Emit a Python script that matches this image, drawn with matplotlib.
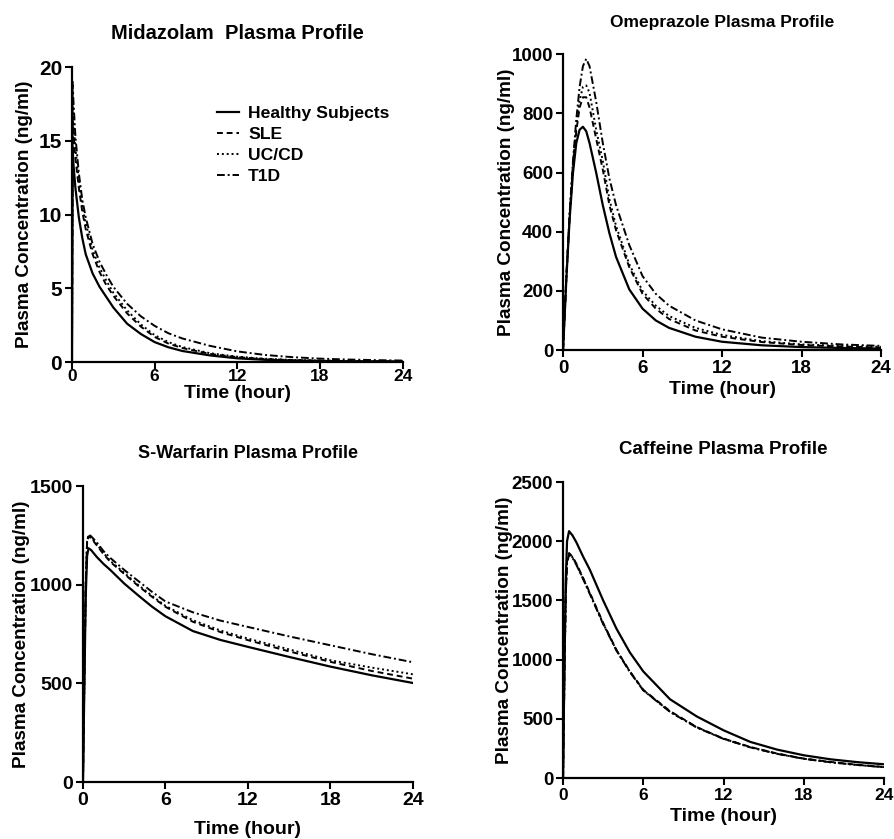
import matplotlib
matplotlib.use("Agg")
import matplotlib.pyplot as plt

plt.rcParams['font.family'] = ['Liberation Sans', 'DejaVu Sans']
plt.rcParams['font.weight'] = 'bold'
plt.rcParams['axes.labelweight'] = 'bold'
plt.rcParams['axes.titleweight'] = 'bold'

groups = ["Healthy Subjects", "SLE", "UC/CD", "T1D"]

# ---- Midazolam ----
mid_t = [0, 0.05, 0.1, 0.25, 0.5, 0.75, 1, 1.5, 2, 2.5, 3, 4, 5, 6, 7, 8, 10, 12, 14, 16, 18, 20, 22, 24]
mid_healthy = [0, 14.5, 13.5, 11.8, 9.8, 8.4, 7.3, 6.0, 5.1, 4.4, 3.7, 2.6, 1.9, 1.35, 1.0, 0.75, 0.45, 0.25, 0.15, 0.1, 0.07, 0.05, 0.04, 0.03]
mid_sle = [0, 16.5, 15.6, 13.8, 11.8, 10.2, 9.0, 7.3, 6.1, 5.2, 4.5, 3.3, 2.4, 1.7, 1.25, 0.95, 0.55, 0.33, 0.2, 0.13, 0.09, 0.07, 0.05, 0.04]
mid_uccd = [0, 17.5, 16.5, 14.5, 12.3, 10.6, 9.4, 7.6, 6.4, 5.5, 4.7, 3.5, 2.55, 1.82, 1.35, 1.02, 0.6, 0.36, 0.22, 0.14, 0.1, 0.07, 0.05, 0.04]
mid_t1d = [0, 19.0, 17.8, 15.3, 12.8, 11.0, 9.8, 8.0, 6.8, 5.9, 5.1, 3.95, 3.1, 2.45, 1.95, 1.6, 1.1, 0.72, 0.48, 0.33, 0.23, 0.17, 0.13, 0.1]

# ---- Omeprazole ----
ome_t = [0, 0.25, 0.5, 0.75, 1, 1.25, 1.5, 1.75, 2, 2.5, 3, 3.5, 4, 5, 6, 7, 8, 10, 12, 15, 18, 21, 24]
ome_healthy = [0, 240, 445, 600, 700, 745, 755, 740, 700, 600, 490, 395, 315, 205, 140, 100, 75, 45, 28, 16, 10, 7, 5]
ome_sle = [0, 245, 455, 620, 740, 820, 855, 855, 820, 715, 610, 490, 405, 280, 190, 140, 105, 66, 45, 27, 17, 12, 8]
ome_uccd = [0, 245, 458, 630, 755, 845, 890, 895, 870, 745, 640, 510, 420, 290, 200, 150, 115, 75, 51, 30, 19, 14, 11]
ome_t1d = [0, 250, 465, 640, 780, 890, 960, 985, 960, 840, 700, 580, 490, 355, 250, 190, 150, 100, 70, 42, 28, 19, 14]

# ---- S-Warfarin ----
war_t = [0, 0.1, 0.2, 0.3, 0.4, 0.6, 1, 1.5, 2, 3, 4, 5, 6, 8, 10, 12, 15, 18, 21, 24]
war_healthy = [0, 480, 940, 1145, 1185, 1175, 1141, 1105, 1074, 1006, 947, 890, 840, 765, 720, 685, 634, 585, 541, 502]
war_sle = [0, 520, 1000, 1210, 1245, 1235, 1200, 1155, 1115, 1055, 995, 940, 888, 812, 760, 719, 662, 609, 563, 524]
war_uccd = [0, 520, 1000, 1215, 1250, 1240, 1205, 1160, 1120, 1060, 1000, 945, 893, 820, 768, 727, 672, 617, 580, 546]
war_t1d = [0, 525, 1005, 1220, 1255, 1245, 1215, 1170, 1135, 1075, 1020, 965, 915, 860, 818, 786, 738, 693, 648, 607]

# ---- Caffeine ----
caf_t = [0, 0.1, 0.2, 0.3, 0.45, 0.7, 1, 1.5, 2, 3, 4, 5, 6, 8, 10, 12, 14, 16, 18, 20, 22, 24]
caf_healthy = [0, 900, 1650, 2000, 2085, 2050, 1990, 1870, 1760, 1500, 1260, 1060, 900, 665, 520, 403, 305, 240, 192, 158, 134, 116]
caf_sle = [0, 850, 1550, 1830, 1900, 1870, 1810, 1690, 1565, 1310, 1080, 900, 745, 565, 430, 333, 262, 207, 164, 136, 112, 93]
caf_uccd = [0, 850, 1545, 1825, 1895, 1865, 1805, 1685, 1560, 1305, 1078, 897, 742, 560, 428, 332, 260, 205, 163, 133, 110, 92]
caf_t1d = [0, 845, 1540, 1815, 1885, 1860, 1800, 1680, 1555, 1300, 1075, 895, 740, 558, 426, 330, 259, 204, 162, 133, 110, 91]

x_ticks = [0, 6, 12, 18, 24]

panels = [
    dict(title="Midazolam  Plasma Profile", t=mid_t, ys=[mid_healthy, mid_sle, mid_uccd, mid_t1d],
         ymax=20, yticks=[0, 5, 10, 15, 20], rect=[0.0805, 0.5685, 0.370, 0.3516], tsize=14.5,
         ysize=15, xsize=12.5, xpad=0, lpad=0.5, ylpad=4, legend=True),
    dict(title="Omeprazole Plasma Profile", t=ome_t, ys=[ome_healthy, ome_sle, ome_uccd, ome_t1d],
         ymax=1000, yticks=[0, 200, 400, 600, 800, 1000], rect=[0.6298, 0.5828, 0.3557, 0.3524], tsize=12.5,
         ysize=13.5, xsize=13.5, xpad=2, lpad=3, ylpad=-2, legend=False),
    dict(title="S-Warfarin Plasma Profile", t=war_t, ys=[war_healthy, war_sle, war_uccd, war_t1d],
         ymax=1500, yticks=[0, 500, 1000, 1500], rect=[0.0928, 0.0679, 0.369, 0.3528], tsize=13,
         ysize=14, xsize=14, xpad=2, lpad=9, ylpad=0, legend=False),
    dict(title="Caffeine Plasma Profile", t=caf_t, ys=[caf_healthy, caf_sle, caf_uccd, caf_t1d],
         ymax=2500, yticks=[0, 500, 1000, 1500, 2000, 2500], rect=[0.6298, 0.0727, 0.359, 0.3528], tsize=13.5,
         ysize=13.5, xsize=12.5, xpad=2, lpad=4, ylpad=-1, legend=False),
]

styles = [
    dict(linestyle='-', linewidth=1.6),
    dict(linestyle=(0, (3, 2)), linewidth=1.4),
    dict(linestyle=(0, (1, 1.5)), linewidth=1.4),
    dict(linestyle=(0, (4, 1.5, 1, 1.5)), linewidth=1.4),
]

fig = plt.figure(figsize=(8.94, 8.39), dpi=100)
for p in panels:
    ax = fig.add_axes(p["rect"])
    for name, y, st in zip(groups, p["ys"], styles):
        ax.plot(p["t"], y, color='black', label=name, **st)
    ax.set_xlim(0, 24)
    ax.set_ylim(0, p["ymax"])
    ax.set_xticks(x_ticks)
    ax.set_yticks(p["yticks"])
    ax.spines['top'].set_visible(False)
    ax.spines['right'].set_visible(False)
    ax.spines['left'].set_linewidth(1.6)
    ax.spines['bottom'].set_linewidth(1.6)
    ax.tick_params(direction='out', length=5, width=1.5, pad=2)
    ax.tick_params(axis='y', labelsize=p["ysize"])
    ax.tick_params(axis='x', labelsize=p["xsize"], pad=p["xpad"])
    for lab in ax.get_xticklabels() + ax.get_yticklabels():
        lab.set_fontweight('bold')
    ax.set_xlabel("Time (hour)", fontsize=14, fontweight='bold', labelpad=p["lpad"])
    ax.set_ylabel("Plasma Concentration (ng/ml)", fontsize=13.6, fontweight='bold', labelpad=p["ylpad"])
    ax.set_title(p["title"], fontsize=p["tsize"], fontweight='bold', pad=20)
    if p["legend"]:
        ax.legend(loc='upper left', bbox_to_anchor=(0.39, 0.922), frameon=False,
                  handlelength=1.3, labelspacing=0.33, handletextpad=0.5,
                  prop={'weight': 'bold', 'size': 12.6})

fig.savefig("out.png", dpi=100)
